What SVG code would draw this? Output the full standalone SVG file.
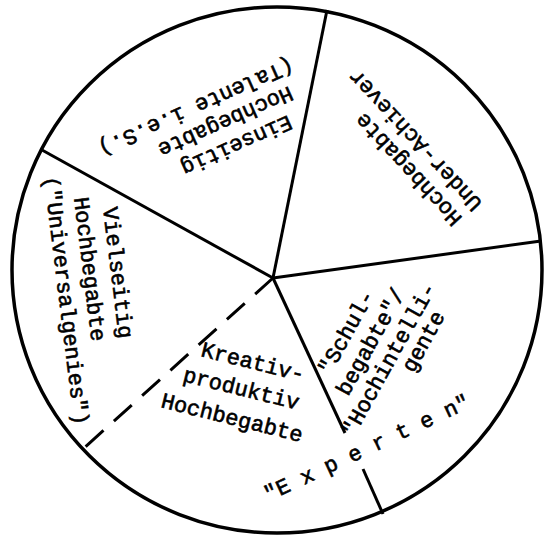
<svg xmlns="http://www.w3.org/2000/svg" width="548" height="536" viewBox="0 0 548 536">
<style>
.lbl{font-family:"Liberation Mono","DejaVu Sans Mono",monospace;font-size:22px;fill:#000;stroke:#000;stroke-width:0.6;}
.ln{stroke:#000;stroke-width:3;fill:none;stroke-linecap:butt;}
.dash{stroke-dasharray:24 14;}
</style>
<rect width="548" height="536" fill="#fff"/>
<g id="outline">
<ellipse cx="277" cy="270" rx="265" ry="263" fill="none" stroke="#000" stroke-width="3.5"/>
</g>
<g id="connectors">
<line class="ln" x1="273" y1="278" x2="327" y2="10"/>
<line class="ln" x1="273" y1="278" x2="541" y2="241"/>
<line class="ln" x1="273" y1="278" x2="42" y2="150"/>
<line class="ln" x1="273" y1="278" x2="345" y2="433"/>
<line class="ln" x1="363" y1="469" x2="383" y2="514"/>
<line class="ln dash" x1="273" y1="278" x2="84" y2="448"/>
</g>
<g id="einseitig">
<text class="lbl" transform="translate(288,115) rotate(156)">Einseitig</text>
<text class="lbl" transform="translate(289,86) rotate(156)">Hochbegabte</text>
<text class="lbl" transform="translate(290,58) rotate(156)">(Talente i.e.S.)</text>
</g>
<g id="underachiever">
<text class="lbl" transform="translate(463,218) rotate(-133)">Hochbegabte</text>
<text class="lbl" transform="translate(483,203) rotate(-133)">Under-Achiever</text>
</g>
<g id="vielseitig">
<text class="lbl" transform="translate(103,208) rotate(83)">Vielseitig</text>
<text class="lbl" transform="translate(74,198) rotate(83)">Hochbegabte</text>
<text class="lbl" transform="translate(44,177) rotate(83)">("Universalgenies")</text>
</g>
<g id="kreativ">
<text class="lbl" transform="translate(200,356) rotate(14)">Kreativ-</text>
<text class="lbl" transform="translate(182,381) rotate(14)">produktiv</text>
<text class="lbl" transform="translate(160,407) rotate(14)">Hochbegabte</text>
</g>
<g id="schulbegabte">
<text class="lbl" transform="translate(330,376) rotate(-61)">"Schul-</text>
<text class="lbl" transform="translate(348,397) rotate(-61)">begabte"/</text>
<text class="lbl" transform="translate(353.5,437.7) rotate(-61)">"Hochintelli-</text>
<text class="lbl" transform="translate(413.5,373.8) rotate(-61)">gente</text>
</g>
<g id="experten">
<text class="lbl" transform="translate(268,501.7) rotate(-25)">"E x p e r t e n"</text>
</g>
</svg>
